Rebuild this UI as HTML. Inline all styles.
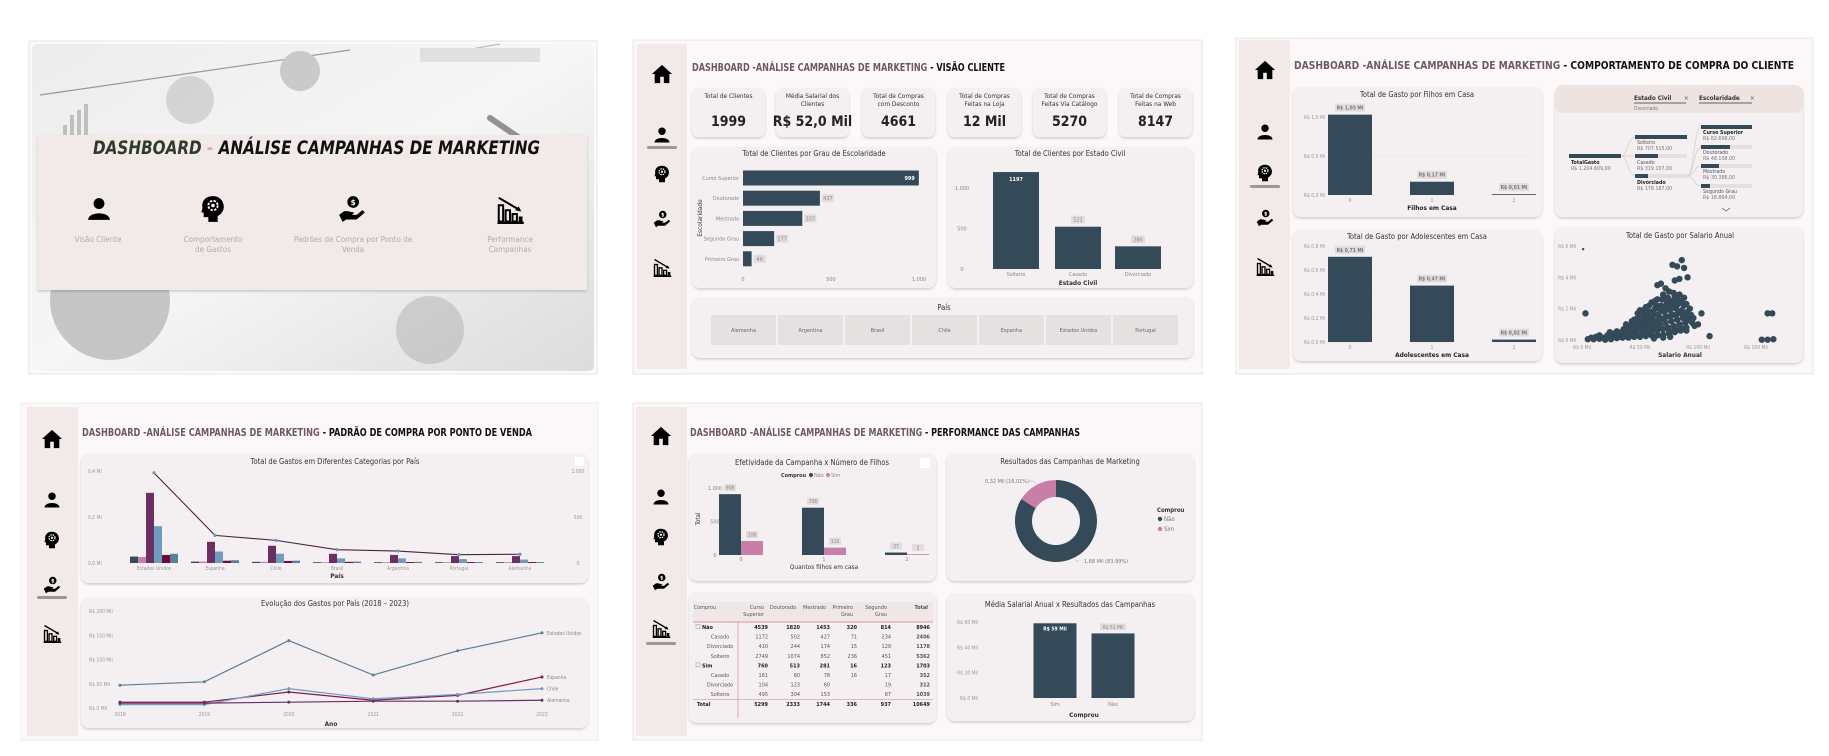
<!DOCTYPE html>
<html><head><meta charset="utf-8">
<style>
html,body{margin:0;padding:0;background:#fff;}
svg{display:block;font-family:"DejaVu Sans Condensed","Liberation Sans",sans-serif;}
</style></head>
<body>
<svg id="s" width="1829" height="756" viewBox="0 0 1829 756" xmlns="http://www.w3.org/2000/svg">
<defs>
<filter id="sh" x="-5%" y="-5%" width="110%" height="115%"><feDropShadow dx="0" dy="1.5" stdDeviation="1.2" flood-color="#000" flood-opacity="0.18"/></filter>
<linearGradient id="bgimg" x1="0" y1="0" x2="1" y2="1"><stop offset="0" stop-color="#ececec"/><stop offset="0.5" stop-color="#f6f6f6"/><stop offset="1" stop-color="#dcdcdc"/></linearGradient>
<symbol id="i-home" viewBox="0 0 24 24"><path d="M12 2 L1 12 H4 V22 H10 V15 H14 V22 H20 V12 H23 Z" fill="#000"/></symbol>
<symbol id="i-user" viewBox="0 0 24 24"><circle cx="12" cy="7" r="5" fill="#000"/><path d="M2 22 C2 14 22 14 22 22 Z" fill="#000"/></symbol>
<symbol id="i-head" viewBox="0 0 24 24"><path d="M12 1 C5 1 2 6 3 11 L2 15 H4 V19 H8 V23 H16 V18 C20 16 22 12 21 8 C20 4 17 1 12 1 Z" fill="#000"/><circle cx="12" cy="9" r="4" fill="none" stroke="#fff" stroke-width="1.6" stroke-dasharray="2 1.2"/><circle cx="12" cy="9" r="1.5" fill="#fff"/></symbol>
<symbol id="i-hand" viewBox="0 0 24 24"><circle cx="13" cy="6" r="5" fill="#000"/><text x="13" y="8.5" font-size="7" font-weight="bold" fill="#fff" text-anchor="middle">$</text><path d="M1 17 L5 14 C8 13 11 15 14 15 L12 17 H16 L21 13 L23 15 L16 21 H7 L4 23 Z" fill="#000"/></symbol>
<symbol id="i-chart" viewBox="0 0 24 24"><path d="M2 23 H23" stroke="#000" stroke-width="2"/><rect x="3" y="9" width="3.5" height="13" fill="none" stroke="#000" stroke-width="1.6"/><rect x="8.5" y="13" width="3.5" height="9" fill="none" stroke="#000" stroke-width="1.6"/><rect x="14" y="16" width="3.5" height="6" fill="none" stroke="#000" stroke-width="1.6"/><rect x="19" y="18" width="3" height="4" fill="#000"/><path d="M3 3 L20 13" stroke="#000" stroke-width="1.6"/><path d="M21 14 L16 13 L19 10 Z" fill="#000"/></symbol>
</defs>

<!-- ============ PANEL 1 ============ -->
<g>
<rect x="29" y="41" width="568" height="333" fill="#fafafa" stroke="#e6e6e6"/>
<rect x="32" y="44" width="562" height="327" rx="5" fill="url(#bgimg)"/>
<g opacity="0.55">
<path d="M40 95 L350 50" stroke="#555" stroke-width="1.2"/>
<circle cx="190" cy="100" r="24" fill="#bdbdbd"/><circle cx="300" cy="71" r="20" fill="#aaa"/>
<rect x="63" y="125" width="4" height="10" fill="#999"/><rect x="70" y="115" width="4" height="20" fill="#999"/><rect x="77" y="110" width="4" height="25" fill="#999"/><rect x="84" y="104" width="4" height="31" fill="#999"/>
<path d="M490 118 L530 145" stroke="#444" stroke-width="6" stroke-linecap="round"/>
<circle cx="110" cy="300" r="60" fill="#9f9f9f"/><circle cx="430" cy="330" r="34" fill="#b5b5b5"/>
<path d="M420 58 L500 44" stroke="#777" stroke-width="1"/><rect x="420" y="48" width="120" height="14" fill="#d0d0d0"/>
</g>
<rect x="38" y="135" width="549" height="155" fill="#f2eae8" filter="url(#sh)"/>
<text x="93" y="154" font-size="19" font-style="italic" font-weight="bold" textLength="447" lengthAdjust="spacingAndGlyphs"><tspan fill="#2e3b2d">DASHBOARD </tspan><tspan fill="#d9a6b6">- </tspan><tspan fill="#111">ANÁLISE CAMPANHAS DE MARKETING</tspan></text>
<g><use href="#i-user" x="86" y="196" width="26" height="26"/><text x="98" y="242" font-size="8" fill="#b7a7ac" text-anchor="middle">Visão Cliente</text></g>
<g><use href="#i-head" x="199" y="195" width="28" height="28"/><text x="213" y="242" font-size="8" fill="#b7a7ac" text-anchor="middle">Comportamento</text><text x="213" y="252" font-size="8" fill="#b7a7ac" text-anchor="middle">de Gastos</text></g>
<g><use href="#i-hand" x="338" y="195" width="28" height="28"/><text x="353" y="242" font-size="8" fill="#b7a7ac" text-anchor="middle">Padrões de Compra por Ponto de</text><text x="353" y="252" font-size="8" fill="#b7a7ac" text-anchor="middle">Venda</text></g>
<g><use href="#i-chart" x="495" y="194" width="30" height="30"/><text x="510" y="242" font-size="8" fill="#b7a7ac" text-anchor="middle">Performance</text><text x="510" y="252" font-size="8" fill="#b7a7ac" text-anchor="middle">Campanhas</text></g>
</g>

<!-- ============ PANEL 2 ============ -->
<g>
<rect x="633" y="40" width="569" height="334" fill="#fcf8f9" stroke="#e8e4e5"/>
<rect x="637" y="44" width="50" height="325" fill="#f1eae8"/>
<use href="#i-home" x="651" y="63" width="22" height="22"/>
<use href="#i-user" x="653" y="126" width="18" height="18"/>
<rect x="647" y="146" width="30" height="3" rx="1.5" fill="#a39396"/>
<use href="#i-head" x="653" y="165" width="18" height="18"/>
<use href="#i-hand" x="653" y="210" width="18" height="18"/>
<use href="#i-chart" x="652" y="257" width="20" height="20"/>
<text x="692" y="71" font-size="11" font-weight="bold" textLength="313" lengthAdjust="spacingAndGlyphs"><tspan fill="#6e5a5e">DASHBOARD -ANÁLISE CAMPANHAS DE MARKETING </tspan><tspan fill="#111">- VISÃO CLIENTE</tspan></text>
<g id="kpis"></g>
<rect x="692" y="147" width="244" height="141" rx="8" fill="#f4eff0" filter="url(#sh)"/>
<text x="814" y="156" font-size="7.5" fill="#333" text-anchor="middle">Total de Clientes por Grau de Escolaridade</text>
<text x="0" y="0" font-size="6.5" fill="#333" transform="translate(702,218) rotate(-90)" text-anchor="middle">Escolaridade</text>
<g id="escol"></g>
<rect x="948" y="147" width="245" height="141" rx="8" fill="#f4eff0" filter="url(#sh)"/>
<text x="1070" y="156" font-size="7.5" fill="#333" text-anchor="middle">Total de Clientes por Estado Civil</text>
<text x="1078" y="285" font-size="6.5" font-weight="bold" fill="#333" text-anchor="middle">Estado Civil</text>
<g id="civil"></g>
<rect x="692" y="297" width="501" height="61" rx="8" fill="#f4eff0" filter="url(#sh)"/>
<text x="944" y="310" font-size="7.5" fill="#333" text-anchor="middle">País</text>
<g id="pais"></g>
</g>

<!-- ============ PANEL 3 ============ -->
<g>
<rect x="1236" y="38" width="577" height="336" fill="#fcf8f9" stroke="#e8e4e5"/>
<rect x="1239" y="40" width="51" height="329" fill="#f1eae8"/>
<use href="#i-home" x="1254" y="59" width="22" height="22"/>
<use href="#i-user" x="1256" y="123" width="18" height="18"/>
<use href="#i-head" x="1256" y="164" width="18" height="18"/>
<rect x="1250" y="185" width="30" height="3" rx="1.5" fill="#a39396"/>
<use href="#i-hand" x="1256" y="209" width="18" height="18"/>
<use href="#i-chart" x="1255" y="256" width="20" height="20"/>
<text x="1294" y="69" font-size="11" font-weight="bold" textLength="500" lengthAdjust="spacingAndGlyphs"><tspan fill="#6e5a5e">DASHBOARD -ANÁLISE CAMPANHAS DE MARKETING </tspan><tspan fill="#111">- COMPORTAMENTO DE COMPRA DO CLIENTE</tspan></text>
<rect x="1293" y="87" width="249" height="130" rx="8" fill="#f4eff0" filter="url(#sh)"/>
<text x="1417" y="97" font-size="7.5" fill="#333" text-anchor="middle">Total de Gasto por Filhos em Casa</text>
<text x="1432" y="210" font-size="6.5" font-weight="bold" fill="#222" text-anchor="middle">Filhos em Casa</text>
<g id="filhos"></g>
<rect x="1293" y="229" width="249" height="132" rx="8" fill="#f4eff0" filter="url(#sh)"/>
<text x="1417" y="239" font-size="7.5" fill="#333" text-anchor="middle">Total de Gasto por Adolescentes em Casa</text>
<text x="1432" y="357" font-size="6.5" font-weight="bold" fill="#222" text-anchor="middle">Adolescentes em Casa</text>
<g id="adol"></g>
<rect x="1555" y="85" width="248" height="132" rx="8" fill="#f4eff0" filter="url(#sh)"/>
<rect x="1555" y="85" width="248" height="28" rx="8" fill="#ede3e1"/>
<g font-size="5.3" fill="#555">
<text x="1634" y="100" font-size="6.3" font-weight="bold" fill="#333">Estado Civil</text><path d="M1634 103 H1686" stroke="#333" stroke-width="0.8"/><text x="1684" y="100" font-size="6">×</text>
<text x="1634" y="110" font-size="5" fill="#777">Divorciado</text>
<text x="1699" y="100" font-size="6.3" font-weight="bold" fill="#333">Escolaridade</text><path d="M1699 103 H1752" stroke="#333" stroke-width="0.8"/><text x="1750" y="100" font-size="6">×</text>
<path d="M1621 156 C1628 156 1628 137 1635 137 M1621 156 H1635 M1621 156 C1628 156 1628 176 1635 176 M1687 176 C1694 176 1694 127 1701 127 M1687 176 C1694 176 1694 147 1701 147 M1687 176 C1694 176 1694 166 1701 166 M1687 176 C1694 176 1694 186 1701 186" stroke="#d8cfcf" stroke-width="0.8" fill="none"/>
<rect x="1569" y="154" width="52" height="4" fill="#344a59"/><text x="1571" y="164" font-weight="bold" fill="#222">TotalGasto</text><text x="1571" y="170" fill="#777">R$ 1.204.609,00</text>
<rect x="1635" y="135" width="52" height="4" fill="#344a59"/><text x="1637" y="144" fill="#555">Solteiro</text><text x="1637" y="150" fill="#777">R$ 707.515,00</text>
<rect x="1635" y="154" width="52" height="4" fill="#e6dfdf"/><rect x="1635" y="154" width="23" height="4" fill="#344a59"/><text x="1637" y="164" fill="#555">Casado</text><text x="1637" y="170" fill="#777">R$ 319.107,00</text>
<rect x="1635" y="174" width="52" height="4" fill="#e6dfdf"/><rect x="1635" y="174" width="13" height="4" fill="#344a59"/><text x="1637" y="184" font-weight="bold" fill="#222">Divorciado</text><text x="1637" y="190" fill="#777">R$ 178.187,00</text>
<rect x="1701" y="125" width="51" height="4" fill="#344a59"/><text x="1703" y="134" font-weight="bold" fill="#222">Curso Superior</text><text x="1703" y="140" fill="#777">R$ 82.698,00</text>
<rect x="1701" y="145" width="51" height="4" fill="#e6dfdf"/><rect x="1701" y="145" width="29" height="4" fill="#344a59"/><text x="1703" y="154" fill="#555">Doutorado</text><text x="1703" y="160" fill="#777">R$ 48.108,00</text>
<rect x="1701" y="164" width="51" height="4" fill="#e6dfdf"/><rect x="1701" y="164" width="18" height="4" fill="#344a59"/><text x="1703" y="173" fill="#555">Mestrado</text><text x="1703" y="179" fill="#777">R$ 30.386,00</text>
<rect x="1701" y="184" width="51" height="4" fill="#e6dfdf"/><rect x="1701" y="184" width="9" height="4" fill="#344a59"/><text x="1703" y="193" fill="#555">Segundo Grau</text><text x="1703" y="199" fill="#777">R$ 16.864,00</text>
<path d="M1722 208 L1726 211 L1730 208" stroke="#777" fill="none" stroke-width="0.8"/>
</g>
<rect x="1555" y="227" width="248" height="136" rx="8" fill="#f4eff0" filter="url(#sh)"/>
<text x="1680" y="238" font-size="7.5" fill="#333" text-anchor="middle">Total de Gasto por Salario Anual</text>
<text x="1680" y="357" font-size="6.5" font-weight="bold" fill="#333" text-anchor="middle">Salario Anual</text>
<g id="scatter"></g>
</g>

<!-- ============ PANEL 4 ============ -->
<g>
<rect x="21" y="403" width="577" height="337" fill="#fcf8f9" stroke="#ececec"/>
<rect x="27" y="407" width="51" height="329" fill="#f1eae8"/>
<use href="#i-home" x="41" y="428" width="22" height="22"/>
<use href="#i-user" x="43" y="491" width="18" height="18"/>
<use href="#i-head" x="43" y="531" width="18" height="18"/>
<use href="#i-hand" x="43" y="576" width="18" height="18"/>
<rect x="37" y="596" width="30" height="3" rx="1.5" fill="#a39396"/>
<use href="#i-chart" x="42" y="623" width="20" height="20"/>
<text x="82" y="436" font-size="11" font-weight="bold" textLength="450" lengthAdjust="spacingAndGlyphs"><tspan fill="#6e5a5e">DASHBOARD -ANÁLISE CAMPANHAS DE MARKETING </tspan><tspan fill="#111">- PADRÃO DE COMPRA POR PONTO DE VENDA</tspan></text>
<rect x="81" y="453" width="507" height="130" rx="8" fill="#f4eff0" filter="url(#sh)"/>
<text x="335" y="464" font-size="7.5" fill="#333" text-anchor="middle">Total de Gastos em Diferentes Categorias por País</text>
<rect x="575" y="457" width="9" height="9" fill="#fff"/>
<text x="337" y="578" font-size="6.5" font-weight="bold" fill="#333" text-anchor="middle">País</text>
<g id="cat"></g>
<rect x="81" y="597" width="507" height="131" rx="8" fill="#f4eff0" filter="url(#sh)"/>
<text x="335" y="606" font-size="7.5" fill="#333" text-anchor="middle">Evolução dos Gastos por País (2018 – 2023)</text>
<text x="331" y="726" font-size="6.5" font-weight="bold" fill="#333" text-anchor="middle">Ano</text>
<g id="evo"></g>
</g>

<!-- ============ PANEL 5 ============ -->
<g>
<rect x="633" y="403" width="569" height="337" fill="#fcf8f9" stroke="#e8e4e5"/>
<rect x="636" y="407" width="51" height="329" fill="#f1eae8"/>
<use href="#i-home" x="650" y="425" width="22" height="22"/>
<use href="#i-user" x="652" y="488" width="18" height="18"/>
<use href="#i-head" x="652" y="528" width="18" height="18"/>
<use href="#i-hand" x="652" y="573" width="18" height="18"/>
<use href="#i-chart" x="651" y="618" width="20" height="20"/>
<rect x="646" y="642" width="30" height="3" rx="1.5" fill="#a39396"/>
<text x="690" y="436" font-size="11" font-weight="bold" textLength="390" lengthAdjust="spacingAndGlyphs"><tspan fill="#6e5a5e">DASHBOARD -ANÁLISE CAMPANHAS DE MARKETING </tspan><tspan fill="#111">- PERFORMANCE DAS CAMPANHAS</tspan></text>
<rect x="689" y="453" width="247" height="128" rx="8" fill="#f4eff0" filter="url(#sh)"/>
<text x="812" y="465" font-size="7.5" fill="#333" text-anchor="middle">Efetividade da Campanha x Número de Filhos</text>
<rect x="920" y="458" width="10" height="10" fill="#fff"/>
<g font-size="5.5"><text x="781" y="477" fill="#333" font-weight="bold">Comprou</text><circle cx="811" cy="475" r="2" fill="#344a59"/><text x="814" y="477" fill="#888">Não</text><circle cx="828" cy="475" r="2" fill="#c87ea6"/><text x="831" y="477" fill="#888">Sim</text></g>
<text x="0" y="0" font-size="6" fill="#333" transform="translate(700,519) rotate(-90)" text-anchor="middle">Total</text>
<text x="824" y="569" font-size="6.5" fill="#333" text-anchor="middle">Quantos filhos em casa</text>
<g id="efet"></g>
<rect x="689" y="592" width="247" height="131" rx="8" fill="#f4eff0" filter="url(#sh)"/>
<rect x="693" y="602" width="240" height="20" fill="#efe6e6"/>
<g id="table"></g>
<rect x="947" y="453" width="247" height="128" rx="8" fill="#f4eff0" filter="url(#sh)"/>
<text x="1070" y="464" font-size="7.5" fill="#333" text-anchor="middle">Resultados das Campanhas de Marketing</text>
<g id="donut"></g>
<g font-size="6"><text x="1157" y="512" fill="#333" font-weight="bold">Comprou</text><circle cx="1160" cy="519" r="2.2" fill="#344a59"/><text x="1164" y="521" fill="#777">Não</text><circle cx="1160" cy="529" r="2.2" fill="#c87ea6"/><text x="1164" y="531" fill="#777">Sim</text></g>
<rect x="947" y="593" width="247" height="128" rx="8" fill="#f4eff0" filter="url(#sh)"/>
<text x="1070" y="607" font-size="7.5" fill="#333" text-anchor="middle">Média Salarial Anual x Resultados das Campanhas</text>
<text x="1084" y="717" font-size="6.5" font-weight="bold" fill="#333" text-anchor="middle">Comprou</text>
<g id="media"></g>
</g>
</svg>

<script>
// ---------- data ----------
const kpiTitles = [["Total de Clientes"],["Média Salarial dos","Clientes"],["Total de Compras","com Desconto"],["Total de Compras","Feitas na Loja"],["Total de Compras","Feitas Via Catálogo"],["Total de Compras","Feitas na Web"]];
const kpiValues = ["1999","R$ 52,0 Mil","4661","12 Mil","5270","8147"];

const escolCats = ["Curso Superior","Doutorado","Mestrado","Segundo Grau","Primeiro Grau"];
const escolVals = [999,437,337,177,49];
const escolTicks = [0,500,1000];

const civilCats = ["Solteiro","Casado","Divorciado"];
const civilVals = [1197,522,280];
const civilTicks = [0,500,1000];

const paisCats = ["Alemanha","Argentina","Brasil","Chile","Espanha","Estados Unidos","Portugal"];

const filhosCats = ["0","1","2"];
const filhosVals = [1.03,0.17,0.01];
const filhosTicks = [0,0.5,1.0];
const adolCats = ["0","1","2"];
const adolVals = [0.71,0.47,0.02];
const adolTicks = [0,0.2,0.4,0.6,0.8];

const scatterSalary = [1,3,78,82,86,88,91,80,84,65,68,103,100,110,160,164,165,160,155,5,10,15,20,25,30,35,40,45,50,55,60,65,70,75,80,85,90,12,18,22,28,33,38,42,47,52,57,62,67,72,77,82,87,92,36,41,46,51,56,61,66,71,76,81,86,91,48,53,58,63,68,73,78,83,88,60,65,70,75,80,72,40,44,54,59,64,69,74,79,84,89,94,58,63,68,73,78,83,88,93,95,97,24,30,15,8,55,50,45,35,25,20,62,70,76,27,38,52,46,
 30,32,34,36,38,40,42,44,46,48,50,52,54,56,58,60,62,64,66,68,70,72,74,76,78,80,82,84,86,88,90,92,94,96,60,65,70,75,80,85,90,55,50,45,66,71,76,81,86,62,57,74,79,84,69,63,58,53,48,43];
const scatterSpend = [5.8,1.7,4.8,4.7,5.1,4.6,4.0,3.8,3.9,3.5,3.6,1.7,1.0,0.25,1.7,1.7,0.05,0.02,0.02,0.05,0.05,0.08,0.1,0.1,0.12,0.15,0.15,0.2,0.2,0.25,0.3,0.3,0.35,0.4,0.5,0.6,0.8,0.2,0.15,0.3,0.25,0.4,0.35,0.5,0.6,0.7,0.8,0.9,1.0,1.1,1.2,1.3,1.4,1.5,0.7,0.9,1.0,1.1,1.3,1.5,1.6,1.8,1.9,2.0,1.9,1.8,1.4,1.6,1.8,2.0,2.2,2.4,2.5,2.3,2.2,2.4,2.6,2.9,3.1,2.8,3.3,0.3,0.4,0.5,0.6,0.7,0.75,0.8,0.9,1.0,1.1,1.2,1.1,1.2,1.35,1.5,1.6,1.7,1.7,2.0,1.1,0.9,0.5,0.55,0.3,0.15,2.1,1.9,1.3,0.2,0.05,0.02,0.1,0.15,0.2,0.4,1.0,1.2,0.8,
 0.3,0.2,0.5,0.4,0.6,0.7,0.8,0.9,0.5,1.0,0.9,1.4,1.0,1.6,1.4,1.8,1.7,2.2,2.0,1.9,2.1,2.0,2.2,2.4,2.1,2.3,2.6,2.5,2.4,2.7,2.3,1.3,1.6,1.4,0.5,0.6,0.7,0.6,0.7,0.8,0.6,0.4,0.35,0.3,1.3,1.4,1.5,1.6,1.7,1.2,1.0,2.7,3.0,2.9,2.6,2.5,2.2,1.9,1.7,1.2];
const scatterXTicks = [0,50,100,150];
const scatterYTicks = [0,2,4,6];

const catCountries = ["Estados Unidos","Espanha","Chile","Brasil","Argentina","Portugal","Alemanha"];
const catS1 = [0.028,0.006,0.005,0.002,0.002,0.002,0.002];
const catS2 = [0.026,0.006,0.005,0.003,0.003,0.002,0.002];
const catS3 = [0.305,0.092,0.075,0.040,0.035,0.030,0.030];
const catS4 = [0.160,0.050,0.040,0.020,0.020,0.017,0.015];
const catS5 = [0.035,0.010,0.009,0.005,0.004,0.004,0.004];
const catS6 = [0.040,0.012,0.010,0.006,0.005,0.004,0.004];
const catLine = [980,300,246,145,130,90,95];
const catLeftTicks = [0,0.2,0.4];
const catRightTicks = [0,500,1000];

const evoYears = [2018,2019,2020,2021,2022,2023];
const evoUS = [47,54,139,68,118,155];
const evoEspanha = [12,12,33,16,26,64];
const evoChile = [7,7,40,19,28,40];
const evoAlemanha = [10,10,12,14,14,16];
const evoTicks = [0,50,100,150,200];

const efetCats = ["0","1","2"];
const efetNao = [908,706,37];
const efetSim = [208,110,2];
const efetTicks = [0,500,1000];

const tableCols = ["Comprou","Curso Superior","Doutorado","Mestrado","Primeiro Grau","Segundo Grau","Total"];
const tableRows = [
 ["Não","4539","1820","1453","320","814","8946"],
 ["Casado","1172","502","427","71","234","2406"],
 ["Divorciado","410","244","174","15","129","1178"],
 ["Solteiro","2749","1074","852","236","451","5362"],
 ["Sim","760","513","281","16","123","1703"],
 ["Casado","161","80","78","16","17","352"],
 ["Divorciado","104","123","60","","19","312"],
 ["Solteiro","495","304","153","","87","1039"],
 ["Total","5299","2333","1744","336","937","10649"]];

const donutLabels = ["Não","Sim"];
const donutVals = [1.68,0.32];
const donutText = ["1,68 Mil (83,99%)","0,32 Mil (16,01%)"];

const mediaCats = ["Sim","Não"];
const mediaVals = [59,51];
const mediaTicks = [0,20,40,60];

// ---------- helpers ----------
const NS="http://www.w3.org/2000/svg";
function mk(tag,attrs,parent,txt){const e=document.createElementNS(NS,tag);for(const k in attrs)e.setAttribute(k,attrs[k]);if(txt!==undefined)e.textContent=txt;parent.appendChild(e);return e;}
const G=id=>document.getElementById(id);
const DARK="#344a59", PINK="#c87ea6";
function fmt(n){return n>=1000?String(n).replace(/(\d)(\d{3})$/,"$1.$2"):String(n);}
function fmtR(n,d){return n.toFixed(d).replace(".",",");}

// ---------- KPIs ----------
(function(){
 const g=G("kpis"); const xs=[692,776,862,948,1033,1119];
 kpiValues.forEach((v,i)=>{
  const c=mk("rect",{x:xs[i],y:88,width:73,height:49,rx:7,fill:"#f4eff0",filter:"url(#sh)"},g);
  
  
  kpiTitles[i].forEach((t,j)=>{const tt=mk("text",{x:xs[i]+36.5,y:98+j*8,"font-size":6.5,fill:"#333","text-anchor":"middle"},g,t);
   
   });
  const vt=mk("text",{x:xs[i]+36.5,y:126,"font-size":14,"font-weight":"bold",fill:"#222","text-anchor":"middle"},g,v);
  
  
 });
})();

// ---------- Escolaridade horizontal bars ----------
(function(){
 const g=G("escol"); const x0=743,x1=919,xs=v=>x0+(v-escolTicks[0])/(1000-0)*(x1-x0);
 const yc=i=>178+i*20.2;
 escolTicks.forEach(t=>{const l=mk("text",{x:xs(t),y:281,"font-size":5.5,fill:"#888","text-anchor":"middle"},g,fmt(t));
  
  });
 escolCats.forEach((c,i)=>{
  const l=mk("text",{x:739,y:yc(i)+2,"font-size":5.5,fill:"#888","text-anchor":"end"},g,c);
  
  
  const w=xs(escolVals[i])-x0;
  const b=mk("rect",{x:x0,y:yc(i)-7.5,width:w,height:15,fill:DARK},g);
  
  
  if(i===0){const t=mk("text",{x:x0+w-4,y:yc(i)+2,"font-size":5.5,fill:"#fff","font-weight":"bold","text-anchor":"end"},g,escolVals[i]);
   
   }
  else{const bx=mk("rect",{x:x0+w+2,y:yc(i)-4,width:12,height:8,fill:"#e4dcdc"},g);
   
   
   const t=mk("text",{x:x0+w+8,y:yc(i)+2,"font-size":5.5,fill:"#888","text-anchor":"middle"},g,escolVals[i]);
   
   }
 });
})();

// ---------- Estado Civil columns ----------
(function(){
 const g=G("civil"); const y0=269,y1=188, ys=v=>y0-v/1000*(y0-y1);
 const xc=[1016,1078,1138];
 civilTicks.forEach(t=>{const l=mk("text",{x:962,y:ys(t)+2,"font-size":5.5,fill:"#888","text-anchor":"middle"},g,fmt(t));
  
  });
 civilCats.forEach((c,i)=>{
  const b=mk("rect",{x:xc[i]-23,y:ys(civilVals[i]),width:46,height:y0-ys(civilVals[i]),fill:DARK},g);
  
  
  const l=mk("text",{x:xc[i],y:276,"font-size":5.5,fill:"#888","text-anchor":"middle"},g,c);
  
  
  if(i===0){const t=mk("text",{x:xc[i],y:ys(civilVals[i])+9,"font-size":5.5,fill:"#fff","font-weight":"bold","text-anchor":"middle"},g,civilVals[i]);
   
   }
  else{const bx=mk("rect",{x:xc[i]-7,y:ys(civilVals[i])-11,width:14,height:8,fill:"#e4dcdc"},g);
   
   
   const t=mk("text",{x:xc[i],y:ys(civilVals[i])-5,"font-size":5.5,fill:"#888","text-anchor":"middle"},g,civilVals[i]);
   
   }
 });
})();

// ---------- País slicer ----------
(function(){
 const g=G("pais"); const x0=710,w=(1179-710)/paisCats.length;
 paisCats.forEach((p,i)=>{
  const r=mk("rect",{x:x0+i*w+1,y:315,width:w-2,height:30,fill:"#e5e1e1"},g);
  
  
  const t=mk("text",{x:x0+i*w+w/2,y:332,"font-size":5.5,fill:"#666","text-anchor":"middle"},g,p);
  
  
 });
})();

// ---------- Filhos / Adolescentes ----------
function colChart(gid,cats,vals,ticks,y0,ymaxPx,maxV,labelY){
 const g=G(gid); const ys=v=>y0-v/maxV*(y0-ymaxPx); const xc=[1350,1432,1514];
 ticks.forEach(t=>{const l=mk("text",{x:1325,y:ys(t)+2,"font-size":5,fill:"#999","text-anchor":"end"},g,"R$ "+fmtR(t,1)+" Mi");
  
  
  const gl=mk("line",{x1:1329,x2:1535,y1:ys(t),y2:ys(t),stroke:"#ece6e6","stroke-width":0.5},g);
  
  });
 cats.forEach((c,i)=>{
  const h=Math.max(0.8,y0-ys(vals[i]));
  const b=mk("rect",{x:xc[i]-22,y:y0-h,width:44,height:h,fill:DARK},g);
  
  
  const bx=mk("rect",{x:xc[i]-15,y:y0-h-11,width:30,height:8,fill:"#e4dcdc"},g);
  
  
  const t=mk("text",{x:xc[i],y:y0-h-5,"font-size":5,"font-weight":"bold",fill:"#777","text-anchor":"middle"},g,"R$ "+fmtR(vals[i],2)+" Mi");
  
  
  const l=mk("text",{x:xc[i],y:labelY,"font-size":5.5,fill:"#999","text-anchor":"middle"},g,c);
  
  
 });
}
colChart("filhos",filhosCats,filhosVals,filhosTicks,195,117,1.0,202);
colChart("adol",adolCats,adolVals,adolTicks,342,246,0.8,349);

// ---------- Scatter ----------
(function(){
 const g=G("scatter"); const xs=v=>1582+v*1.16, ys=v=>340-v/6*(340-246);
 scatterYTicks.forEach(t=>{const l=mk("text",{x:1558,y:ys(t)+2,"font-size":5,fill:"#999"},g,"R$ "+t+" Mil");
  
  });
 scatterXTicks.forEach(t=>{const l=mk("text",{x:xs(t),y:349,"font-size":5,fill:"#999","text-anchor":"middle"},g,"R$ "+t+" Mil");
  
  });
 scatterSalary.forEach((s,i)=>{
  const p=mk("circle",{cx:xs(s),cy:ys(scatterSpend[i]),r:i===0?1.2:3.2,fill:DARK},g);
  
  
 });
})();

// ---------- Categorias por país ----------
(function(){
 const g=G("cat"); const y0=563,yT=471; const ys=v=>y0-v/0.4*(y0-yT); const yr=v=>y0-v/1000*(y0-yT);
 const xc=i=>154+i*61; const series=[catS1,catS2,catS3,catS4,catS5,catS6];
 const cols=["#364a5a","#c97fa8","#6b2f63","#6f9bbc","#6e0a35","#5a7f9c"];
 catLeftTicks.forEach(t=>{const l=mk("text",{x:88,y:ys(t)+2,"font-size":5,fill:"#999"},g,fmtR(t,1)+" Mi");
  
  
  const gl=mk("line",{x1:105,x2:560,y1:ys(t),y2:ys(t),stroke:"#e9e2e2","stroke-width":0.5,"stroke-dasharray":"1 1"},g);
  
  });
 catRightTicks.forEach(t=>{const l=mk("text",{x:578,y:yr(t)+2,"font-size":5,fill:"#999","text-anchor":"middle"},g,fmt(t));
  
  });
 catCountries.forEach((c,i)=>{
  series.forEach((s,k)=>{
   const h=Math.max(0.8,y0-ys(s[i]));
   const b=mk("rect",{x:xc(i)-24+k*8,y:y0-h,width:8,height:h,fill:cols[k]},g);
   
   
  });
  const l=mk("text",{x:xc(i),y:570,"font-size":5,fill:"#999","text-anchor":"middle"},g,c);
  
  
 });
 const pl=mk("polyline",{points:catLine.map((v,i)=>xc(i)+","+yr(v)).join(" "),fill:"none",stroke:"#4a2440","stroke-width":1.1},g);
 
 
 catLine.forEach((v,i)=>{const p=mk("circle",{cx:xc(i),cy:yr(v),r:1.6,fill:"#6f9bbc"},g);
  
  });
})();

// ---------- Evolução ----------
(function(){
 const g=G("evo"); const y0=708,yT=611; const ys=v=>y0-v/200*(y0-yT);
 const xs=yr=>120+(yr-2018)/5*(542-120);
 evoTicks.forEach(t=>{const l=mk("text",{x:89,y:ys(t)+2,"font-size":5,fill:"#999"},g,"R$ "+t+" Mil");
  
  
  const gl=mk("line",{x1:118,x2:548,y1:ys(t),y2:ys(t),stroke:"#ebe4e4","stroke-width":0.5,"stroke-dasharray":"1 1"},g);
  
  });
 evoYears.forEach(y=>{const l=mk("text",{x:xs(y),y:716,"font-size":5,fill:"#999","text-anchor":"middle"},g,y);
  
  });
 const series=[[evoUS,"#5f7d94","Estados Unidos"],[evoEspanha,"#7b1f45","Espanha"],[evoChile,"#6f9bbc","Chile"],[evoAlemanha,"#6b2f63","Alemanha"]];
 series.forEach(([d,c,n])=>{
  const pl=mk("polyline",{points:d.map((v,i)=>xs(evoYears[i])+","+ys(v)).join(" "),fill:"none",stroke:c,"stroke-width":1.2},g);
  
  
  d.forEach((v,i)=>{const p=mk("circle",{cx:xs(evoYears[i]),cy:ys(v),r:1.5,fill:c},g);
   
   });
  const l=mk("text",{x:xs(2023)+5,y:ys(d[d.length-1])+2,"font-size":5,fill:"#888"},g,n);
  
  
 });
})();

// ---------- Efetividade ----------
(function(){
 const g=G("efet"); const y0=555,yT=488; const ys=v=>y0-v/1000*(y0-yT); const xc=[741,824,907];
 efetTicks.forEach(t=>{const l=mk("text",{x:715,y:ys(t)+2,"font-size":5.5,fill:"#888","text-anchor":"middle"},g,fmt(t));
  
  });
 efetCats.forEach((c,i)=>{
  [[efetNao,DARK,-22],[efetSim,PINK,0]].forEach(([d,col,off])=>{
   const h=Math.max(0.8,y0-ys(d[i]));
   const b=mk("rect",{x:xc[i]+off,y:y0-h,width:22,height:h,fill:col},g);
   
   
   const bx=mk("rect",{x:xc[i]+off+5,y:y0-h-10,width:12,height:7,fill:"#e4dcdc"},g);
   
   
   const t=mk("text",{x:xc[i]+off+11,y:y0-h-4.5,"font-size":5,fill:"#888","text-anchor":"middle"},g,d[i]);
   
   
  });
  const l=mk("text",{x:xc[i],y:561,"font-size":5.5,fill:"#888","text-anchor":"middle"},g,c);
  
  
 });
})();

// ---------- Table ----------
(function(){
 const g=G("table"); const colX=[705,768,800,830,857,891,930];
 tableCols.forEach((c,i)=>{
  const parts=c.split(" "); const two=(i===1||i===4||i===5);
  const lines=two?[parts[0],parts.slice(1).join(" ")]:[c];
  lines.forEach((ln,j)=>{const t=mk("text",{x:i===0?705:(i===6?928:colX[i]-4),y:609+j*7,"font-size":5.5,fill:"#555","font-weight":i===6?"bold":"normal","text-anchor":i===0?"middle":"end"},g,ln);
   
   });
 });
 const hl=mk("line",{x1:693,x2:933,y1:622,y2:622,stroke:"#d993b4","stroke-width":1},g);
 
 
 const vl=mk("line",{x1:738,x2:738,y1:622,y2:718,stroke:"#d993b4","stroke-width":0.8},g);
 
 
 tableRows.forEach((r,ri)=>{
  const y=629+ri*9.6; const bold=(r[0]==="Não"||r[0]==="Sim"||r[0]==="Total"); const isGroup=(r[0]==="Não"||r[0]==="Sim");
  if(r[0]==="Total"){const tl=mk("line",{x1:693,x2:933,y1:y-6.5,y2:y-6.5,stroke:"#d993b4","stroke-width":0.6},g);
   
   }
  r.forEach((v,ci)=>{
   const x=ci===0?(isGroup?702:(r[0]==="Total"?697:720)):colX[ci];
   const t=mk("text",{x:x,y:y,"font-size":5.5,fill:bold?"#222":"#555","font-weight":(bold||ci===6)?"bold":"normal","text-anchor":ci===0?(isGroup||r[0]==="Total"?"start":"middle"):"end"},g,v);
   
   
  });
  if(isGroup){const e=mk("rect",{x:696,y:y-4.5,width:4,height:4,fill:"none",stroke:"#999","stroke-width":0.5},g);
   
   }
 });
})();

// ---------- Donut ----------
(function(){
 const g=G("donut"); const cx=1056,cy=521,R=41,r=24; const tot=donutVals.reduce((a,b)=>a+b,0);
 let a0=0; const cols=[DARK,PINK];
 donutVals.forEach((v,i)=>{
  const a1=a0+v/tot*2*Math.PI;
  const p=(a,rad)=>[cx+rad*Math.sin(a),cy-rad*Math.cos(a)];
  const [x0,y0]=p(a0,R),[x1,y1]=p(a1,R),[x2,y2]=p(a1,r),[x3,y3]=p(a0,r); const lg=(a1-a0)>Math.PI?1:0;
  const s=mk("path",{d:`M${x0},${y0} A${R},${R} 0 ${lg} 1 ${x1},${y1} L${x2},${y2} A${r},${r} 0 ${lg} 0 ${x3},${y3} Z`,fill:cols[i]},g);
  
  
  a0=a1;
 });
 const l1=mk("text",{x:1084,y:563,"font-size":5.5,fill:"#777"},g,donutText[0]);
 
 
 const l2=mk("text",{x:985,y:483,"font-size":5.5,fill:"#777"},g,donutText[1]);
 
 
 const c1=mk("path",{d:"M1075 561 L1079 561",stroke:"#aaa","stroke-width":0.5},g);
 
 
 const c2=mk("path",{d:"M1028 481 L1033 481 L1036 484",stroke:"#aaa","stroke-width":0.5,fill:"none"},g);
 
 
})();

// ---------- Média salarial ----------
(function(){
 const g=G("media"); const y0=698,yT=622; const ys=v=>y0-v/60*(y0-yT); const xc=[1055,1113];
 mediaTicks.forEach(t=>{const l=mk("text",{x:978,y:ys(t)+2,"font-size":5,fill:"#999","text-anchor":"end"},g,"R$ "+t+" Mil");
  
  });
 mediaCats.forEach((c,i)=>{
  const b=mk("rect",{x:xc[i]-21.5,y:ys(mediaVals[i]),width:43,height:y0-ys(mediaVals[i]),fill:DARK},g);
  
  
  if(i===0){const t=mk("text",{x:xc[i],y:ys(mediaVals[i])+7,"font-size":5,"font-weight":"bold",fill:"#fff","text-anchor":"middle"},g,"R$ "+mediaVals[i]+" Mil");
   
   }
  else{const bx=mk("rect",{x:xc[i]-13,y:ys(mediaVals[i])-10,width:26,height:7,fill:"#e4dcdc"},g);
   
   
   const t=mk("text",{x:xc[i],y:ys(mediaVals[i])-4.5,"font-size":5,fill:"#888","text-anchor":"middle"},g,"R$ "+mediaVals[i]+" Mil");
   
   }
  const l=mk("text",{x:xc[i],y:706,"font-size":5.5,fill:"#888","text-anchor":"middle"},g,c);
  
  
 });
})();
</script>
</body></html>
